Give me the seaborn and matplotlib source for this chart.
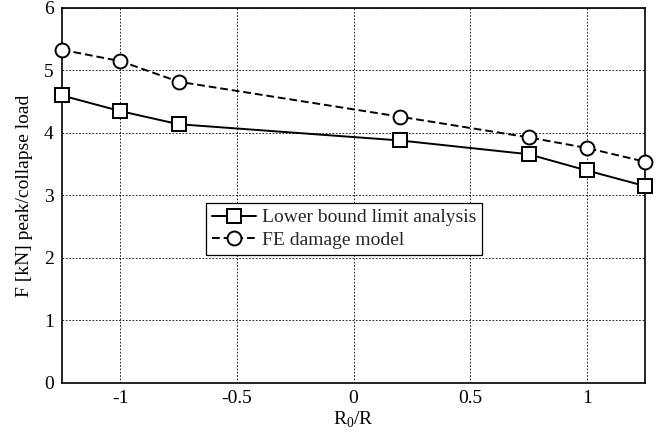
import matplotlib
matplotlib.use("Agg")
import matplotlib.pyplot as plt
import seaborn as sns
import pandas as pd

x_vals = [-1.25, -1.0, -0.75, 0.2, 0.75, 1.0, 1.25]
lower_bound = [4.60, 4.35, 4.14, 3.88, 3.66, 3.40, 3.15]
fe_damage = [5.33, 5.15, 4.82, 4.26, 3.93, 3.76, 3.54]
series_names = ["Lower bound limit analysis", "FE damage model"]
x_ticks = [-1, -0.5, 0, 0.5, 1]
x_tick_labels = ["-1", "-0.5", "0", "0.5", "1"]
y_ticks = [0, 1, 2, 3, 4, 5, 6]

sns.set_theme(style="white")
plt.rcParams['font.family'] = ['Liberation Serif', 'DejaVu Serif']
plt.rcParams['mathtext.fontset'] = 'custom'
plt.rcParams['mathtext.rm'] = 'Liberation Serif'

df = pd.DataFrame({
    "x": x_vals * 2,
    "y": lower_bound + fe_damage,
    "series": [series_names[0]] * len(x_vals) + [series_names[1]] * len(x_vals),
})

fig = plt.figure(figsize=(6.57, 4.36), dpi=100)
ax = fig.add_axes([0.0944, 0.1216, 0.8876, 0.8601])

sns.lineplot(data=df, x="x", y="y", hue="series", style="series",
             palette=["black", "black"], markers=["s", "o"],
             dashes=[(None, None), (4, 2)], ax=ax, linewidth=1.4,
             markersize=10, markerfacecolor="white", markeredgecolor="black",
             markeredgewidth=1.4, legend=True, clip_on=False, zorder=5)

ax.set_xlim(-1.25, 1.25)
ax.set_ylim(0, 6)
ax.set_xticks(x_ticks)
ax.set_xticklabels(x_tick_labels)
ax.set_yticks(y_ticks)
ax.tick_params(labelsize=14, direction="in", length=4, color="black", labelcolor="black")
ax.tick_params(axis="x", pad=5)
ax.tick_params(axis="y", pad=6)
ax.grid(True, color="black", linestyle=(0, (2, 2)), linewidth=0.6)
for s in ax.spines.values():
    s.set_color("black")
    s.set_linewidth(1.2)

ax.set_xlabel(r"R$_0$/R", fontsize=14, color="black", labelpad=2)
ax.set_ylabel("F [kN] peak/collapse load", fontsize=14, color="black", labelpad=8)

leg = ax.legend(loc="upper left", bbox_to_anchor=(0.2465, 0.48), fontsize=14,
                frameon=True, fancybox=False, edgecolor="black",
                handlelength=2.3, handletextpad=0.3, borderpad=0.3,
                labelspacing=0.25, borderaxespad=0)
leg.get_frame().set_linewidth(0.9)
leg.get_frame().set_alpha(1)
leg.set_zorder(10)

fig.savefig("out.png", dpi=100)
